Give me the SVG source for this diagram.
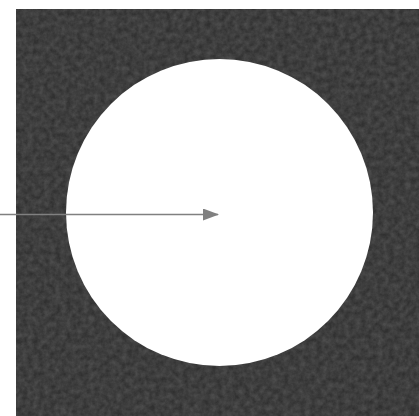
<svg xmlns="http://www.w3.org/2000/svg" width="419" height="416" viewBox="0 0 419 416">
  <style>
    .conn { stroke: #808080; stroke-width: 1.5; fill: none; }
  </style>
  <defs>
    <filter id="grain" x="0" y="0" width="100%" height="100%">
      <feTurbulence type="fractalNoise" baseFrequency="0.18" numOctaves="4" seed="7" result="n"/>
      <feColorMatrix in="n" type="matrix" values="0 0 0 0 0.1  0 0 0 0 0.1  0 0 0 0 0.1  0 0 0 -1.4 1.2"/>
    </filter>
    <marker id="arrow" viewBox="0 0 16 12" refX="15" refY="6" markerWidth="16" markerHeight="12" markerUnits="userSpaceOnUse" orient="auto">
      <polygon points="0,0 16,6 0,12" fill="#808080"/>
    </marker>
  </defs>
  <rect width="419" height="416" fill="#ffffff"/>
  <g id="background">
    <rect x="16" y="9" width="403" height="407" fill="#303030"/>
    <rect x="16" y="9" width="403" height="407" filter="url(#grain)" opacity="0.7"/>
  </g>
  <g id="circle">
    <circle cx="219.5" cy="212.5" r="153.5" fill="#ffffff"/>
  </g>
  <g id="connectors">
    <line class="conn" x1="0" y1="214.5" x2="218" y2="214.5" marker-end="url(#arrow)"/>
  </g>
</svg>
